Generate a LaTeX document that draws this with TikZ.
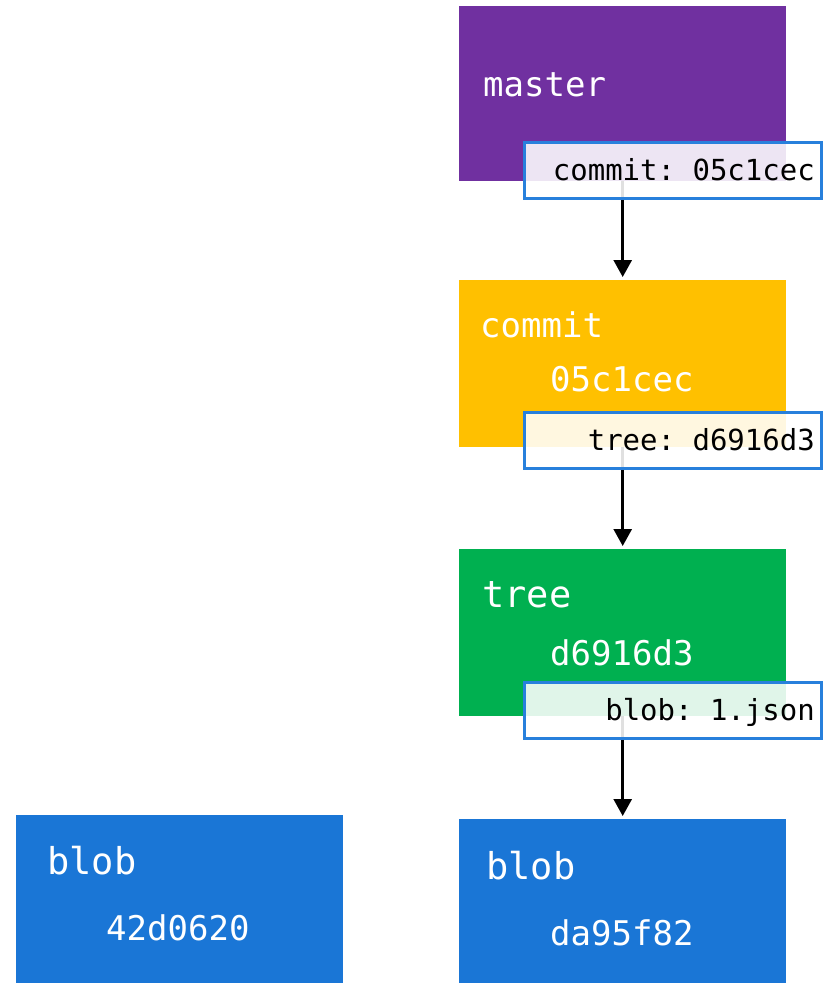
\documentclass[tikz,border=0pt]{standalone}
\usepackage{fontspec}
\setmonofont{DejaVu Sans Mono}
\usetikzlibrary{arrows.meta}

\definecolor{GitPurple}{RGB}{112,48,160}
\definecolor{GitOrange}{RGB}{255,192,0}
\definecolor{GitGreen}{RGB}{0,176,80}
\definecolor{GitBlue}{RGB}{26,118,214}
\definecolor{RefBlue}{RGB}{40,128,220}

\tikzset{
  objbox/.style={fill=#1, draw=none, inner sep=0pt, anchor=north west, minimum width=327pt},
  reflabel/.style={draw=RefBlue, line width=2.8pt, fill=white, fill opacity=0.88, inner sep=0pt,
    anchor=north west, minimum width=297pt, minimum height=56pt},
  kindtext/.style={text=white, anchor=base west, inner sep=0pt, font=\ttfamily\fontsize{34}{40}\selectfont},
  bigkind/.style={kindtext, font=\ttfamily\fontsize{37}{44}\selectfont},
  hashtext/.style={kindtext},
  reftext/.style={text=black, anchor=base east, inner sep=0pt, font=\ttfamily\fontsize{29}{34}\selectfont},
  pointer/.style={line width=2.8pt, -{Triangle[length=17pt,width=18pt]}, shorten >=3pt}
}

\newcommand{\drawref}[3]{% Parameters: name, top, text
  \node[reflabel] (#1) at (523,#2) {};
  \node[reftext] (#1text) at (815,#2+39) {#3};
}

\begin{document}
\begin{tikzpicture}[x=1pt,y=-1pt]
  \useasboundingbox (0,0) rectangle (833,983);

  % objects
  \node[objbox=GitPurple, minimum height=175pt] (master) at (459,6) {};
  \node[objbox=GitOrange, minimum height=167pt] (commit) at (459,280) {};
  \node[objbox=GitGreen, minimum height=167pt] (tree) at (459,549) {};
  \node[objbox=GitBlue, minimum height=164pt] (blob) at (459,819) {};
  \node[objbox=GitBlue, minimum height=168pt] (oldblob) at (16,815) {};

  \node[kindtext] (masterkind) at (483,96) {master};
  \node[kindtext] (commitkind) at (480,337) {commit};
  \node[hashtext] (commithash) at (550,391) {05c1cec};
  \node[bigkind] (treekind) at (482,607) {tree};
  \node[hashtext] (treehash) at (550,665) {d6916d3};
  \node[bigkind] (blobkind) at (486,879) {blob};
  \node[hashtext] (blobhash) at (550,945) {da95f82};
  \node[bigkind] (oldblobkind) at (47,874) {blob};
  \node[hashtext] (oldblobhash) at (106,940) {42d0620};

  % pointers
  \draw[pointer] (master.south) -- (commit.north);
  \draw[pointer] (commit.south) -- (tree.north);
  \draw[pointer] (tree.south) -- (blob.north);

  % references
  \drawref{masterref}{141}{commit: 05c1cec}
  \drawref{commitref}{411}{tree: d6916d3}
  \drawref{treeref}{681}{blob: 1.json}
\end{tikzpicture}
\end{document}
